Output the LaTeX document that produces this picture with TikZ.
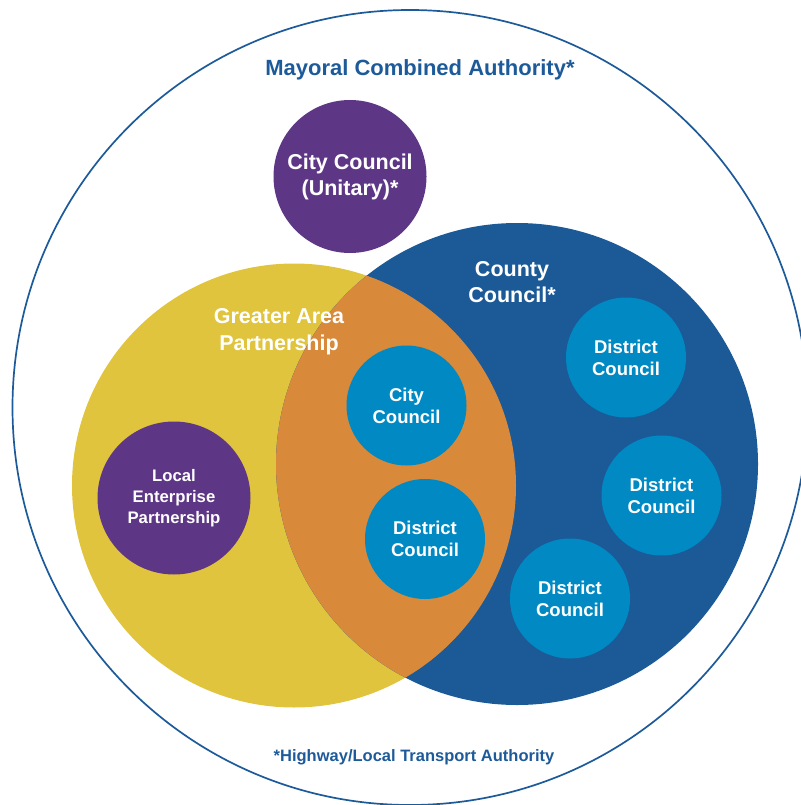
\documentclass[tikz,border=0pt]{standalone}
\usepackage{fontspec}
\setmainfont{Liberation Sans}
\usetikzlibrary{positioning}
\definecolor{mcablue}{HTML}{1D5A9A}
\definecolor{gapyellow}{HTML}{E0C43E}
\definecolor{overlaporange}{HTML}{D9893A}
\definecolor{countyblue}{HTML}{1B5A97}
\definecolor{districtblue}{HTML}{0089C3}
\definecolor{unitpurple}{HTML}{5E3686}
\tikzstyle{region} = [circle, inner sep=0pt, outer sep=0pt]
\tikzstyle{council} = [circle, inner sep=0pt, minimum size=120pt, fill=districtblue, text=white, align=center, font=\bfseries\fontsize{18.5}{22}\selectfont]
\tikzstyle{blob} = [circle, inner sep=0pt, minimum size=153pt, fill=unitpurple, text=white, align=center]
\tikzstyle{title} = [text=white, align=center, font=\bfseries\fontsize{21.5}{26.5}\selectfont]
\tikzstyle{note} = [text=mcablue, font=\bfseries\fontsize{16.5}{20}\selectfont]

\begin{document}
\begin{tikzpicture}[x=1pt, y=-1pt]
    \useasboundingbox (0,0) rectangle (800,805);
    \node (mca) [region, minimum size=795pt, draw=mcablue, line width=1.7pt] at (410,407.5) {};
    \node (gap) [region, minimum size=444pt, fill=gapyellow] at (294,485.5) {};
    \node (county) [region, minimum size=482pt, fill=countyblue] at (517,464) {};
    \begin{scope} % overlap
        \clip (gap.center) circle (222pt);
        \fill [overlaporange] (county.center) circle (241pt);
    \end{scope}

    \node (mcatitle) [note, font=\bfseries\fontsize{22}{26}\selectfont] at (420,70) {Mayoral Combined Authority*};
    \node (unitary) [blob, font=\bfseries\fontsize{21.5}{26}\selectfont] at (350,176.5) {City Council\\(Unitary)*};
    \node (gaptitle) [title] at (279,331.5) {Greater Area\\Partnership};
    \node (countytitle) [title] at (512,282) {County\\Council*};
    \node (lep) [blob, font=\bfseries\fontsize{16.7}{21}\selectfont] at (174,498) {Local\\Enterprise\\Partnership};

    \node (citycc) [council] at (406.5,405.5) {City\\Council};
    \node (dc1) [council] at (425,539) {District\\Council};
    \node (dc2) [council] at (626,357.5) {District\\Council};
    \node (dc3) [council] at (661.5,495.5) {District\\Council};
    \node (dc4) [council] at (570,598.5) {District\\Council};

    \node (footnote) [note] at (414,757) {*Highway/Local Transport Authority};
\end{tikzpicture}
\end{document}
